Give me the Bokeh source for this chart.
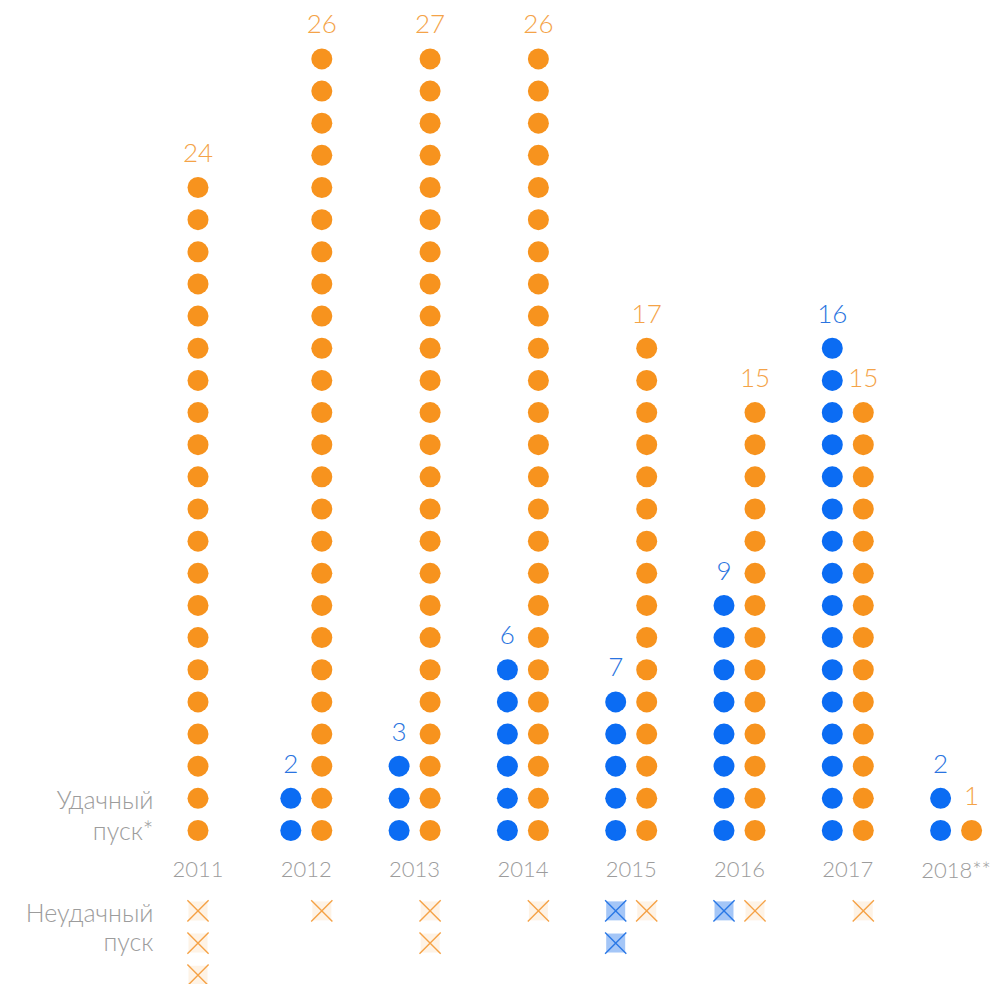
from bokeh.plotting import figure
from bokeh.models import Range1d
from bokeh.embed import file_html
from bokeh.resources import INLINE
from bokeh.core.properties import value

# ---- data ----
years = ["2011", "2012", "2013", "2014", "2015", "2016", "2017", "2018**"]
orange_ok = [21, 25, 25, 25, 16, 14, 14, 1]
orange_fail = [3, 1, 2, 1, 1, 1, 1, 0]
blue_ok = [0, 2, 3, 6, 5, 8, 16, 2]
blue_fail = [0, 0, 0, 0, 2, 1, 0, 0]
label_ok = ["Удачный", "пуск*"]
label_fail = ["Неудачный", "пуск"]

# ---- layout ----
W, H = 997, 984
STEP_X = 108.3          # px per year
STEP_Y = 32.15          # px per dot slot
X0 = 197.5              # px of first year column
Y0 = H - 830            # px from bottom of slot 0
OFF = 15.5 / STEP_X     # half distance between paired columns

ORANGE = "#F7931E"
BLUE = "#0B6CF3"
ORANGE_TXT = "#F4A348"
BLUE_TXT = "#2A74E0"
GRAY = "#9c9c9c"
FONT = value("Lato Light")

p = figure(width=W, height=H, output_backend="svg", toolbar_location=None,
           x_range=Range1d(-X0 / STEP_X, (W - X0) / STEP_X),
           y_range=Range1d(-Y0 / STEP_Y, (H - Y0) / STEP_Y),
           x_axis_location=None, y_axis_location=None, min_border=0)
p.grid.visible = False
p.outline_line_color = None
p.background_fill_color = "white"
p.border_fill_color = "white"

ox, oy, bx, by = [], [], [], []
ofx, ofy, bfx, bfy = [], [], [], []
olx, oly, olt, blx, bly, blt = [], [], [], [], [], []
for i in range(len(years)):
    has_blue = (blue_ok[i] + blue_fail[i]) > 0
    xo = i + (OFF if has_blue else 0)
    xb = i - OFF
    for k in range(orange_ok[i]):
        ox.append(xo); oy.append(k)
    for k in range(blue_ok[i]):
        bx.append(xb); by.append(k)
    for j in range(orange_fail[i]):
        ofx.append(xo); ofy.append(-2.5 - j)
    for j in range(blue_fail[i]):
        bfx.append(xb); bfy.append(-2.5 - j)
    if orange_ok[i] + orange_fail[i] > 0:
        olx.append(xo); oly.append(orange_ok[i] + 0.07); olt.append(str(orange_ok[i] + orange_fail[i]))
    if has_blue:
        blx.append(xb); bly.append(blue_ok[i] + 0.07); blt.append(str(blue_ok[i] + blue_fail[i]))

# success dots
p.scatter(ox, oy, size=21, color=ORANGE, line_color=None)
p.scatter(bx, by, size=21, color=BLUE, line_color=None)

# failure marks
p.scatter(ofx, ofy, marker="square", size=19, fill_color="#FEEBD6", fill_alpha=0.6, line_color=None)
p.scatter(bfx, bfy, marker="square", size=19, fill_color="#A4C6F7", line_color=None)
p.scatter(ofx, ofy, marker="x", size=30, line_color="#F5A246", line_width=1.4)
p.scatter(bfx, bfy, marker="x", size=30, line_color="#2A78E6", line_width=1.4)

# count labels
p.text(olx, oly, text=olt, text_align="center", text_baseline="middle",
       text_font=FONT, text_font_size="26px", text_color=ORANGE_TXT)
p.text(blx, bly, text=blt, text_align="center", text_baseline="middle",
       text_font=FONT, text_font_size="26px", text_color=BLUE_TXT)

# year labels
p.text(list(range(len(years))), [-1.22] * len(years), text=years, text_align="center",
       text_baseline="middle", text_font=FONT, text_font_size="22px", text_color=GRAY)

# row labels
LX = (153 - X0) / STEP_X
p.text([LX, LX], [0.98, 0.02], text=label_ok, text_align="right", text_baseline="middle",
       text_font=FONT, text_font_size="25px", text_color=GRAY)
p.text([LX, LX], [-2.52, -3.45], text=label_fail, text_align="right", text_baseline="middle",
       text_font=FONT, text_font_size="25px", text_color=GRAY)

open("out.html", "w").write(file_html(p, INLINE))
